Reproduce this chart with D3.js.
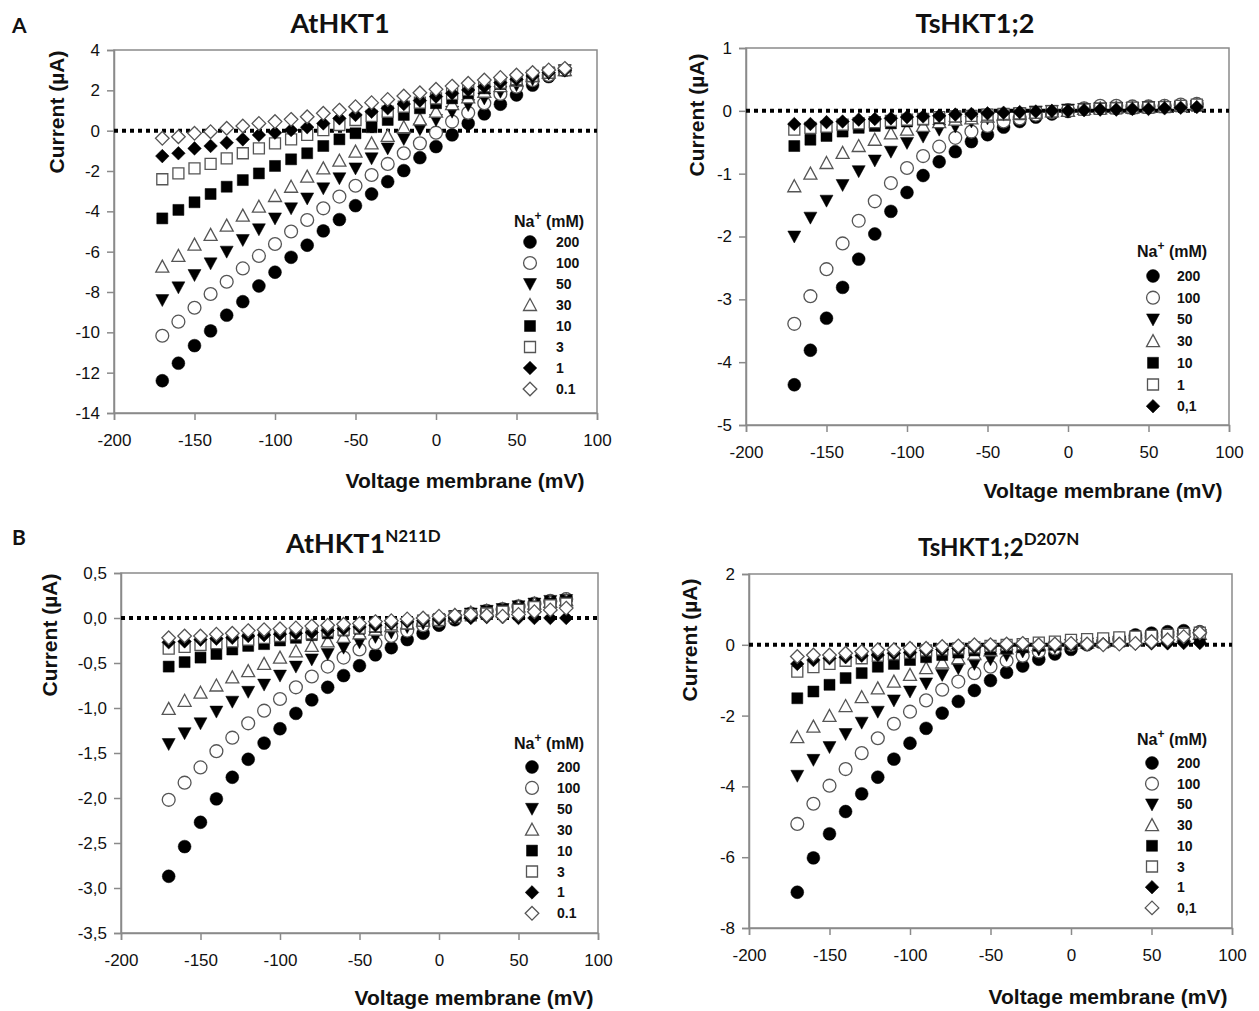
<!DOCTYPE html>
<html><head><meta charset="utf-8">
<script src="https://cdn.jsdelivr.net/npm/d3@7"></script>
<style>
html,body{margin:0;padding:0;background:#fff;}
svg{display:block;}
text{font-family:"Liberation Sans",Arial,sans-serif;fill:#111;}
</style></head><body>
<svg id="chart" width="1259" height="1011"></svg>
<script>
// ---------- data ----------
const voltages = [-170,-160,-150,-140,-130,-120,-110,-100,-90,-80,-70,-60,-50,-40,-30,-20,-10,0,10,20,30,40,50,60,70,80];
const xTicks = [-200,-150,-100,-50,0,50,100];

// Panel A left: AtHKT1
const at_200 = [-12.4,-11.53,-10.66,-9.93,-9.15,-8.48,-7.7,-7.02,-6.28,-5.68,-4.97,-4.41,-3.72,-3.14,-2.53,-1.98,-1.34,-0.79,-0.21,0.36,0.83,1.31,1.77,2.26,2.68,3.0];
const at_100 = [-10.17,-9.47,-8.78,-8.1,-7.49,-6.83,-6.21,-5.62,-5.0,-4.43,-3.85,-3.27,-2.73,-2.2,-1.65,-1.12,-0.63,-0.1,0.45,0.89,1.36,1.82,2.18,2.51,2.76,3.0];
const at_50 = [-8.4,-7.77,-7.16,-6.58,-6.0,-5.42,-4.89,-4.35,-3.85,-3.36,-2.86,-2.36,-1.87,-1.37,-0.88,-0.41,0.07,0.53,0.94,1.27,1.6,1.93,2.26,2.55,2.84,3.0];
const at_30 = [-6.74,-6.21,-5.65,-5.17,-4.71,-4.21,-3.77,-3.24,-2.78,-2.28,-1.87,-1.49,-1.04,-0.63,-0.26,0.17,0.56,0.94,1.32,1.65,1.93,2.21,2.48,2.71,2.88,3.0];
const at_10 = [-4.35,-3.93,-3.55,-3.14,-2.78,-2.45,-2.12,-1.75,-1.42,-1.12,-0.76,-0.43,-0.13,0.17,0.53,0.78,1.11,1.36,1.6,1.85,2.1,2.31,2.51,2.71,2.88,3.0];
const at_3 = [-2.41,-2.12,-1.87,-1.65,-1.37,-1.12,-0.88,-0.63,-0.43,-0.21,0.03,0.28,0.53,0.73,0.94,1.19,1.39,1.6,1.82,2.02,2.21,2.38,2.55,2.71,2.88,3.0];
const at_1 = [-1.26,-1.12,-0.88,-0.76,-0.6,-0.43,-0.21,-0.1,0.03,0.17,0.36,0.61,0.78,0.94,1.11,1.32,1.49,1.69,1.85,2.02,2.18,2.38,2.55,2.71,2.88,3.0];
const at_01 = [-0.38,-0.3,-0.13,-0.05,0.12,0.23,0.36,0.45,0.56,0.69,0.86,1.02,1.19,1.39,1.55,1.72,1.88,2.05,2.21,2.35,2.51,2.64,2.76,2.88,3.01,3.09];

// Panel A right: TsHKT1;2
const ts_200 = [-4.36,-3.81,-3.3,-2.81,-2.36,-1.96,-1.6,-1.3,-1.03,-0.81,-0.65,-0.49,-0.38,-0.26,-0.17,-0.1,-0.05,-0.01,0.03,0.04,0.04,0.04,0.06,0.07,0.08,0.1];
const ts_100 = [-3.39,-2.95,-2.52,-2.11,-1.75,-1.44,-1.15,-0.91,-0.72,-0.57,-0.43,-0.33,-0.24,-0.17,-0.12,-0.06,-0.02,0.01,0.04,0.08,0.08,0.07,0.07,0.08,0.1,0.11];
const ts_50 = [-2.0,-1.7,-1.43,-1.18,-0.96,-0.79,-0.65,-0.51,-0.41,-0.3,-0.25,-0.17,-0.12,-0.06,-0.04,-0.01,0.0,0.02,0.03,0.04,0.05,0.05,0.06,0.06,0.07,0.08];
const ts_30 = [-1.2,-1.0,-0.83,-0.67,-0.56,-0.46,-0.36,-0.3,-0.24,-0.18,-0.14,-0.12,-0.09,-0.06,-0.05,-0.03,-0.01,0.0,0.03,0.04,0.05,0.05,0.06,0.07,0.08,0.1];
const ts_10 = [-0.56,-0.46,-0.4,-0.33,-0.27,-0.24,-0.2,-0.17,-0.14,-0.12,-0.09,-0.08,-0.06,-0.05,-0.04,-0.03,-0.01,0.0,0.02,0.03,0.04,0.04,0.05,0.06,0.07,0.08];
const ts_1 = [-0.3,-0.27,-0.25,-0.22,-0.2,-0.18,-0.16,-0.14,-0.13,-0.1,-0.09,-0.08,-0.06,-0.05,-0.04,-0.03,-0.01,0.0,0.02,0.03,0.04,0.05,0.05,0.06,0.08,0.1];
const ts_01 = [-0.21,-0.21,-0.18,-0.17,-0.14,-0.13,-0.12,-0.1,-0.09,-0.08,-0.06,-0.05,-0.04,-0.03,-0.02,-0.01,0.0,0.0,0.01,0.02,0.02,0.03,0.03,0.04,0.05,0.06];

// Panel B left: AtHKT1 N211D
const atm_200 = [-2.87,-2.54,-2.27,-2.01,-1.77,-1.57,-1.39,-1.23,-1.06,-0.91,-0.77,-0.64,-0.53,-0.41,-0.33,-0.24,-0.17,-0.08,-0.02,0.03,0.07,0.09,0.12,0.15,0.18,0.21];
const atm_100 = [-2.02,-1.83,-1.66,-1.48,-1.33,-1.17,-1.03,-0.9,-0.77,-0.65,-0.54,-0.44,-0.35,-0.28,-0.2,-0.14,-0.08,-0.03,0.01,0.05,0.08,0.1,0.13,0.16,0.19,0.21];
const atm_50 = [-1.4,-1.28,-1.17,-1.04,-0.93,-0.82,-0.74,-0.64,-0.54,-0.46,-0.4,-0.33,-0.27,-0.21,-0.16,-0.1,-0.06,-0.02,0.02,0.05,0.08,0.1,0.13,0.16,0.19,0.2];
const atm_30 = [-1.01,-0.92,-0.83,-0.75,-0.66,-0.59,-0.51,-0.44,-0.37,-0.31,-0.26,-0.21,-0.17,-0.13,-0.09,-0.06,-0.03,0.0,0.03,0.06,0.08,0.1,0.13,0.16,0.18,0.2];
const atm_10 = [-0.54,-0.49,-0.44,-0.4,-0.35,-0.31,-0.29,-0.25,-0.22,-0.19,-0.17,-0.14,-0.12,-0.1,-0.07,-0.06,-0.03,-0.01,0.02,0.04,0.07,0.09,0.1,0.13,0.16,0.18];
const atm_3 = [-0.34,-0.32,-0.3,-0.28,-0.26,-0.24,-0.22,-0.2,-0.18,-0.17,-0.14,-0.13,-0.11,-0.09,-0.07,-0.06,-0.03,-0.02,0.01,0.03,0.05,0.07,0.09,0.12,0.14,0.16];
const atm_1 = [-0.27,-0.26,-0.24,-0.23,-0.22,-0.2,-0.19,-0.18,-0.17,-0.16,-0.14,-0.12,-0.1,-0.08,-0.06,-0.04,-0.03,-0.01,0.0,0.0,0.01,0.01,0.0,0.0,0.0,0.0];
const atm_01 = [-0.22,-0.2,-0.2,-0.18,-0.17,-0.14,-0.13,-0.12,-0.11,-0.09,-0.08,-0.07,-0.06,-0.04,-0.03,-0.01,0.0,0.02,0.03,0.04,0.03,0.02,0.04,0.07,0.09,0.11];

// Panel B right: TsHKT1;2 D207N
const tsm_200 = [-6.99,-6.02,-5.34,-4.71,-4.21,-3.74,-3.23,-2.78,-2.36,-1.93,-1.6,-1.29,-1.01,-0.78,-0.6,-0.41,-0.26,-0.13,0.0,0.09,0.18,0.28,0.33,0.37,0.4,0.37];
const tsm_100 = [-5.06,-4.49,-3.98,-3.51,-3.06,-2.64,-2.23,-1.89,-1.57,-1.27,-1.04,-0.8,-0.62,-0.45,-0.31,-0.19,-0.1,0.0,0.04,0.09,0.14,0.18,0.23,0.28,0.31,0.34];
const tsm_50 = [-3.7,-3.25,-2.89,-2.52,-2.2,-1.89,-1.57,-1.32,-1.09,-0.85,-0.66,-0.54,-0.41,-0.29,-0.19,-0.13,-0.07,0.0,0.04,0.06,0.09,0.12,0.16,0.21,0.25,0.28];
const tsm_30 = [-2.61,-2.31,-2.01,-1.73,-1.48,-1.23,-1.04,-0.85,-0.66,-0.5,-0.38,-0.26,-0.16,-0.1,-0.05,0.0,0.02,0.04,0.06,0.09,0.12,0.16,0.18,0.21,0.25,0.31];
const tsm_10 = [-1.51,-1.32,-1.13,-0.94,-0.8,-0.62,-0.54,-0.43,-0.35,-0.29,-0.22,-0.16,-0.13,-0.1,-0.07,-0.03,0.0,0.02,0.04,0.06,0.09,0.12,0.14,0.16,0.18,0.21];
const tsm_3 = [-0.76,-0.63,-0.54,-0.45,-0.38,-0.31,-0.26,-0.22,-0.16,-0.13,-0.1,-0.07,-0.03,0.0,0.02,0.06,0.09,0.14,0.16,0.18,0.21,0.23,0.25,0.28,0.31,0.34];
const tsm_1 = [-0.54,-0.43,-0.38,-0.35,-0.31,-0.29,-0.24,-0.22,-0.16,-0.13,-0.1,-0.07,-0.05,-0.03,0.0,0.0,0.02,0.02,0.02,0.02,0.03,0.03,0.04,0.04,0.05,0.05];
const tsm_01 = [-0.33,-0.29,-0.29,-0.24,-0.19,-0.14,-0.14,-0.1,-0.1,-0.05,-0.03,0.0,0.0,0.02,0.04,0.0,0.02,0.04,0.02,0.0,0.02,0.04,0.09,0.14,0.23,0.34];

const labelsA = ["200","100","50","30","10","3","1","0.1"];
const labelsTs = ["200","100","50","30","10","1","0,1"];
const labelsTsm = ["200","100","50","30","10","3","1","0,1"];
const yTicksAt = [4,2,0,-2,-4,-6,-8,-10,-12,-14];
const yTicksTs = [1,0,-1,-2,-3,-4,-5];
const yTicksAtm = [0.5,0,-0.5,-1,-1.5,-2,-2.5,-3,-3.5];
const yTicksTsm = [2,0,-2,-4,-6,-8];

// marker order: filled circle, open circle, filled down-tri, open up-tri, filled square, open square, filled diamond, open diamond
const markers8 = ["circleF","circleO","triDownF","triUpO","squareF","squareO","diamondF","diamondO"];
const markersTs = ["circleF","circleO","triDownF","triUpO","squareF","squareO","diamondF"];

const panels = [
  {title:"AtHKT1", sup:"", series:[at_200,at_100,at_50,at_30,at_10,at_3,at_1,at_01], labels:labelsA, marks:markers8,
   yDomain:[-14,4], yTicks:yTicksAt, fmt:d=>String(d),
   box:{l:114,r:597,t:50,b:413}, titleX:340, titleY:33, titleSize:27, yLabX:64, yLabY:112, xLabX:465, xLabY:488,
   leg:{tx:514, ty:227, sx:530, lx:556, y0:242, dy:21}},
  {title:"TsHKT1;2", sup:"", series:[ts_200,ts_100,ts_50,ts_30,ts_10,ts_1,ts_01], labels:labelsTs, marks:markersTs,
   yDomain:[-5,1], yTicks:yTicksTs, fmt:d=>String(d),
   box:{l:746,r:1229,t:48,b:425}, titleX:975, titleY:33, titleSize:27, yLabX:704, yLabY:115, xLabX:1103, xLabY:498,
   leg:{tx:1137, ty:257, sx:1153, lx:1177, y0:276, dy:21.7}},
  {title:"AtHKT1", sup:"N211D", series:[atm_200,atm_100,atm_50,atm_30,atm_10,atm_3,atm_1,atm_01], labels:labelsA, marks:markers8,
   yDomain:[-3.5,0.5], yTicks:yTicksAtm, fmt:d=>d.toFixed(1).replace(".",","),
   box:{l:121,r:598,t:573,b:933}, titleX:286, titleY:553, titleSize:27, yLabX:57, yLabY:635, xLabX:474, xLabY:1005, titleStart:true,
   leg:{tx:514, ty:749, sx:532, lx:557, y0:767, dy:20.9}},
  {title:"TsHKT1;2", sup:"D207N", series:[tsm_200,tsm_100,tsm_50,tsm_30,tsm_10,tsm_3,tsm_1,tsm_01], labels:labelsTsm, marks:markers8,
   yDomain:[-8,2], yTicks:yTicksTsm, fmt:d=>String(d),
   box:{l:749,r:1232,t:574,b:928}, titleX:918, titleY:556, titleSize:24, yLabX:697, yLabY:640, xLabX:1108, xLabY:1004, titleStart:true,
   leg:{tx:1137, ty:745, sx:1152, lx:1177, y0:763, dy:20.7}}
];

// ---------- drawing ----------
const svg = d3.select("#chart");
const AXC = "#8a8a8a";
const OPEN_STROKE = "#555";

function markerPath(type){
  switch(type){
    case "circleF": case "circleO": return d3.symbol(d3.symbolCircle, 130)();
    case "triDownF": return "M-6.5,-5.5L6.5,-5.5L0,6.5Z";
    case "triUpO": return "M0,-6.5L6.5,5.5L-6.5,5.5Z";
    case "squareF": case "squareO": return "M-5.5,-5.5H5.5V5.5H-5.5Z";
    case "diamondF": case "diamondO": return "M0,-6.8L6.8,0L0,6.8L-6.8,0Z";
  }
}
function styleMarker(sel, type){
  const open = type.endsWith("O");
  sel.attr("d", markerPath(type))
     .attr("fill", open ? "#fff" : "#000")
     .attr("stroke", open ? OPEN_STROKE : "#000")
     .attr("stroke-width", open ? 1.3 : 0.5);
}

// panel letters
svg.append("text").attr("x",12).attr("y",33).style("font-family","Lato,'Open Sans',sans-serif").style("font-weight","bold").style("font-size","21px").text("A");
svg.append("text").attr("x",12).attr("y",545).style("font-family","Lato,'Open Sans',sans-serif").style("font-weight","bold").style("font-size","21px").text("B");

panels.forEach(p=>{
  const g = svg.append("g");
  const x = d3.scaleLinear().domain([-200,100]).range([p.box.l,p.box.r]);
  const y = d3.scaleLinear().domain(p.yDomain).range([p.box.b,p.box.t]);

  // frame
  g.append("rect").attr("x",p.box.l).attr("y",p.box.t).attr("width",p.box.r-p.box.l).attr("height",p.box.b-p.box.t)
    .attr("fill","none").attr("stroke",AXC).attr("stroke-width",1.5);

  // axes
  const xa = g.append("g").attr("transform",`translate(0,${p.box.b})`)
    .call(d3.axisBottom(x).tickValues(xTicks).tickSize(7).tickPadding(14).tickFormat(d=>String(d)));
  const ya = g.append("g").attr("transform",`translate(${p.box.l},0)`)
    .call(d3.axisLeft(y).tickValues(p.yTicks).tickSize(7).tickPadding(7).tickFormat(p.fmt));
  [xa,ya].forEach(a=>{
    a.select(".domain").attr("stroke",AXC).attr("stroke-width",1.5);
    a.selectAll(".tick line").attr("stroke",AXC).attr("stroke-width",1.5);
    a.selectAll(".tick text").style("font-family","'Liberation Sans',Arial,sans-serif").style("font-size","17px").attr("fill","#111");
  });

  // zero dotted line
  g.append("line").attr("x1",p.box.l).attr("x2",p.box.r).attr("y1",y(0)).attr("y2",y(0))
    .attr("stroke","#000").attr("stroke-width",4).attr("stroke-dasharray","4,4");

  // series
  p.series.forEach((vals,si)=>{
    const type = p.marks[si];
    g.append("g").selectAll("path").data(vals.map((v,i)=>({v, mv:voltages[i]}))).join("path")
      .attr("transform",d=>`translate(${x(d.mv)},${y(d.v)})`)
      .call(s=>styleMarker(s,type));
  });

  // legend
  const lg = g.append("g");
  const lt = lg.append("text").attr("x",p.leg.tx).attr("y",p.leg.ty).style("font-weight","bold").style("font-size","16px");
  lt.append("tspan").text("Na");
  lt.append("tspan").attr("dy",-7).style("font-size","12px").text("+");
  lt.append("tspan").attr("dy",7).text(" (mM)");
  p.labels.forEach((lab,i)=>{
    const yy = p.leg.y0 + i*p.leg.dy;
    lg.append("path").attr("transform",`translate(${p.leg.sx},${yy})`).call(s=>styleMarker(s,p.marks[i]));
    lg.append("text").attr("x",p.leg.lx).attr("y",yy+5).style("font-weight","bold").style("font-size","14px").text(lab);
  });

  // titles
  const t = g.append("text").attr("x",p.titleX).attr("y",p.titleY)
    .attr("text-anchor", p.titleStart ? "start" : "middle")
    .style("font-family","Lato,'Open Sans',sans-serif").style("font-weight","bold").style("font-size",p.titleSize+"px");
  t.append("tspan").text(p.title);
  if(p.sup){ t.append("tspan").attr("dy",-11).style("font-size","17px").text(p.sup); }

  // axis labels
  g.append("text").attr("transform",`translate(${p.yLabX},${p.yLabY}) rotate(-90)`).attr("text-anchor","middle")
    .style("font-weight","bold").style("font-size","21px").text("Current (µA)");
  g.append("text").attr("x",p.xLabX).attr("y",p.xLabY).attr("text-anchor","middle")
    .style("font-weight","bold").style("font-size","21px").text("Voltage membrane (mV)");
});
</script>
</body></html>
